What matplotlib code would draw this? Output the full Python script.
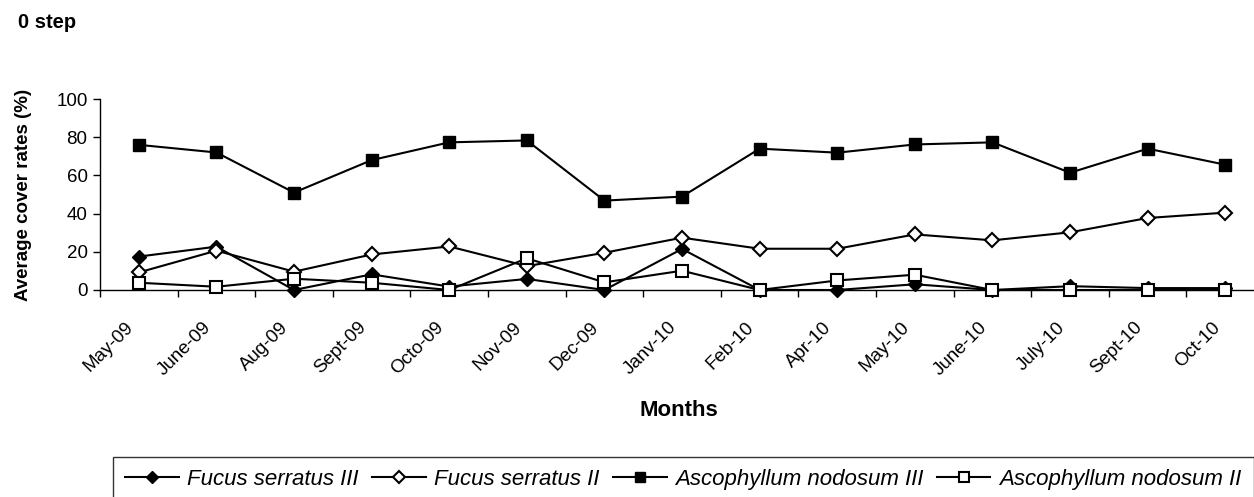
import numpy as np
import matplotlib.pyplot as plt
import matplotlib.transforms as mtransforms

plt.rcParams['font.family'] = ['Liberation Sans', 'DejaVu Sans']

months = ['May-09', 'June-09', 'Aug-09', 'Sept-09', 'Octo-09', 'Nov-09', 'Dec-09',
          'Janv-10', 'Feb-10', 'Apr-10', 'May-10', 'June-10', 'July-10', 'Sept-10', 'Oct-10']

fucus_III = [17.5, 22.7, 0, 8.2, 1.8, 5.8, 0, 21.5, 0, 0, 3, 0, 2, 1, 1]
fucus_II = [9.2, 20.6, 9.6, 18.6, 22.8, 12.5, 19.5, 27.4, 21.6, 21.6, 29.1, 26, 30.2, 37.7, 40.5]
asco_III = [76, 72, 51, 68, 77.3, 78.3, 46.8, 48.9, 74, 71.9, 76.2, 77.3, 61.4, 74, 65.6]
asco_II = [3.8, 1.7, 5.9, 3.8, 0, 16.6, 4, 10.1, 0, 5, 8, 0, 0, 0, 0]

W, H = 1254, 497
fig = plt.figure(figsize=(W / 100, H / 100), dpi=100)
ax = fig.add_axes([100 / W, 1 - 290 / H, 1154 / W, (290 - 99) / H])

x = np.arange(len(months))
lw = 1.5
ax.plot(x, fucus_III, '-', color='black', lw=lw, marker='D', ms=7.5, mfc='black',
        mec='black', clip_on=False, zorder=3, label='Fucus serratus III')
ax.plot(x, fucus_II, '-', color='black', lw=lw, marker='D', ms=7.5, mfc='white',
        mec='black', mew=1.5, clip_on=False, zorder=3, label='Fucus serratus II')
ax.plot(x, asco_III, '-', color='black', lw=lw, marker='s', ms=9, mfc='black',
        mec='black', clip_on=False, zorder=3, label='Ascophyllum nodosum III')
ax.plot(x, asco_II, '-', color='black', lw=lw, marker='s', ms=9, mfc='white',
        mec='black', mew=1.5, clip_on=False, zorder=4, label='Ascophyllum nodosum II')

ax.set_ylim(0, 100)
ax.set_xlim(-0.5, 14.37)
ax.set_yticks(np.arange(0, 101, 20))
ax.tick_params(axis='y', labelsize=13.5, length=5, width=1, direction='out', pad=4)

# tick marks between categories, labels at the centres
ax.set_xticks(np.arange(-0.5, 14.5, 1))
ax.set_xticklabels([])
ax.tick_params(axis='x', which='major', length=5, width=1, direction='out')
ax.set_xticks(x, minor=True)
ax.set_xticklabels(months, minor=True, rotation=45, ha='right', va='center',
                   rotation_mode='anchor', fontsize=13.5)
ax.tick_params(axis='x', which='minor', length=0, pad=25)
shift = mtransforms.ScaledTranslation(-8 / 100, 0, fig.dpi_scale_trans)
for lab in ax.get_xticklabels(minor=True):
    lab.set_transform(lab.get_transform() + shift)

for s in ['top', 'right']:
    ax.spines[s].set_visible(False)
for s in ['left', 'bottom']:
    ax.spines[s].set_linewidth(1)

ax.set_ylabel('Average cover rates (%)', fontsize=13.5, fontweight='bold')
ax.yaxis.set_label_coords(-68 / 1154, 0.5)
fig.text(679 / W, 1 - 410 / H, 'Months', fontsize=16, fontweight='bold',
         ha='center', va='center')
fig.text(18 / W, 1 - 22 / H, '0 step', fontsize=14.5, fontweight='bold',
         ha='left', va='center')

leg = fig.legend(loc='upper left', bbox_to_anchor=(113 / W, 1 - 457 / H), ncol=4,
                 prop={'style': 'italic', 'size': 16}, frameon=True, fancybox=False,
                 edgecolor='black', handlelength=2.4, handletextpad=0.4,
                 columnspacing=0.6, borderpad=0.55, borderaxespad=0, markerscale=0.8)
leg.get_frame().set_linewidth(1)

fig.savefig('out.png', dpi=100)
